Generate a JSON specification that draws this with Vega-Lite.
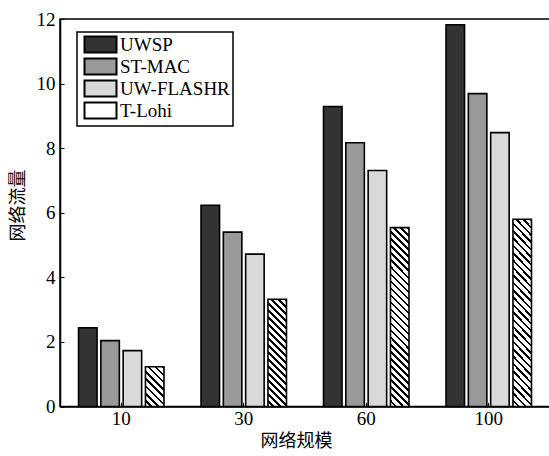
{
  "$schema": "https://vega.github.io/schema/vega-lite/v6.json",
  "autosize": "none",
  "padding": {"left": 60, "top": 19, "right": 0, "bottom": 49.5},
  "width": 490,
  "height": 387.5,
  "background": "white",
  "config": {"view": {"stroke": "black", "strokeWidth": 1.5}},
  "data": {"values": [
    {"size": "10", "series": "UWSP", "value": 2.44},
    {"size": "10", "series": "ST-MAC", "value": 2.04},
    {"size": "10", "series": "UW-FLASHR", "value": 1.73},
    {"size": "10", "series": "T-Lohi", "value": 1.23},
    {"size": "30", "series": "UWSP", "value": 6.23},
    {"size": "30", "series": "ST-MAC", "value": 5.40},
    {"size": "30", "series": "UW-FLASHR", "value": 4.72},
    {"size": "30", "series": "T-Lohi", "value": 3.32},
    {"size": "60", "series": "UWSP", "value": 9.29},
    {"size": "60", "series": "ST-MAC", "value": 8.17},
    {"size": "60", "series": "UW-FLASHR", "value": 7.31},
    {"size": "60", "series": "T-Lohi", "value": 5.54},
    {"size": "100", "series": "UWSP", "value": 11.82},
    {"size": "100", "series": "ST-MAC", "value": 9.69},
    {"size": "100", "series": "UW-FLASHR", "value": 8.48},
    {"size": "100", "series": "T-Lohi", "value": 5.80}
  ]},
  "mark": {"type": "bar", "stroke": "black", "strokeWidth": 1.6},
  "encoding": {
    "x": {
      "field": "size", "type": "ordinal", "sort": ["10", "30", "60", "100"],
      "scale": {"paddingInner": 0, "paddingOuter": 0},
      "axis": {
        "title": "网络规模", "titleFont": "Noto Sans CJK SC", "titleFontSize": 18, "titleFontWeight": "normal", "titleColor": "black",
        "titleX": 236, "titlePadding": 4,
        "labelFont": "Liberation Serif", "labelFontSize": 19, "labelColor": "black", "labelAngle": 0, "labelPadding": 7,
        "domainColor": "black", "domainWidth": 1.5, "tickColor": "black", "tickSize": -4, "tickWidth": 1
      }
    },
    "xOffset": {
      "field": "series", "type": "nominal", "sort": ["UWSP", "ST-MAC", "UW-FLASHR", "T-Lohi"],
      "scale": {"paddingInner": 0.17, "paddingOuter": 0.83}
    },
    "y": {
      "field": "value", "type": "quantitative",
      "scale": {"domain": [0, 12], "nice": false},
      "axis": {
        "title": "网络流量", "titleFont": "Noto Sans CJK SC", "titleFontSize": 18, "titleFontWeight": "normal", "titleColor": "black",
        "titleY": 186, "titlePadding": 9,
        "values": [0, 2, 4, 6, 8, 10, 12], "grid": false,
        "labelFont": "Liberation Serif", "labelFontSize": 19, "labelColor": "black", "labelPadding": 9,
        "domainColor": "black", "domainWidth": 1.5, "tickColor": "black", "tickSize": -4, "tickWidth": 1
      }
    },
    "fill": {
      "field": "series", "type": "nominal", "sort": ["UWSP", "ST-MAC", "UW-FLASHR", "T-Lohi"],
      "scale": {"domain": ["UWSP", "ST-MAC", "UW-FLASHR", "T-Lohi"], "range": ["#333333", "#999999", "#d9d9d9", "#ffffff"]},
      "condition": [
        {"test": "datum.series==='T-Lohi' && datum.size==='10'", "value": {"gradient": "linear", "x1": 0, "y1": 1, "x2": 0.564, "y2": -0.204, "stops": [
          {"offset": 0, "color": "#fff"},
          {"offset": 0.08125, "color": "#fff"}, {"offset": 0.08125, "color": "#000"}, {"offset": 0.125, "color": "#000"}, {"offset": 0.125, "color": "#fff"},
          {"offset": 0.20625, "color": "#fff"}, {"offset": 0.20625, "color": "#000"}, {"offset": 0.25, "color": "#000"}, {"offset": 0.25, "color": "#fff"},
          {"offset": 0.33125, "color": "#fff"}, {"offset": 0.33125, "color": "#000"}, {"offset": 0.375, "color": "#000"}, {"offset": 0.375, "color": "#fff"},
          {"offset": 0.45625, "color": "#fff"}, {"offset": 0.45625, "color": "#000"}, {"offset": 0.5, "color": "#000"}, {"offset": 0.5, "color": "#fff"},
          {"offset": 0.58125, "color": "#fff"}, {"offset": 0.58125, "color": "#000"}, {"offset": 0.625, "color": "#000"}, {"offset": 0.625, "color": "#fff"},
          {"offset": 0.70625, "color": "#fff"}, {"offset": 0.70625, "color": "#000"}, {"offset": 0.75, "color": "#000"}, {"offset": 0.75, "color": "#fff"},
          {"offset": 0.83125, "color": "#fff"}, {"offset": 0.83125, "color": "#000"}, {"offset": 0.875, "color": "#000"}, {"offset": 0.875, "color": "#fff"},
          {"offset": 0.95625, "color": "#fff"}, {"offset": 0.95625, "color": "#000"}, {"offset": 1, "color": "#000"}
        ]}},
        {"test": "datum.series==='T-Lohi' && datum.size==='30'", "value": {"gradient": "linear", "x1": 0, "y1": 1, "x2": 0.197, "y2": -0.139, "stops": [
          {"offset": 0, "color": "#fff"},
          {"offset": 0.0361, "color": "#fff"}, {"offset": 0.0361, "color": "#000"}, {"offset": 0.0556, "color": "#000"}, {"offset": 0.0556, "color": "#fff"},
          {"offset": 0.0917, "color": "#fff"}, {"offset": 0.0917, "color": "#000"}, {"offset": 0.1111, "color": "#000"}, {"offset": 0.1111, "color": "#fff"},
          {"offset": 0.1472, "color": "#fff"}, {"offset": 0.1472, "color": "#000"}, {"offset": 0.1667, "color": "#000"}, {"offset": 0.1667, "color": "#fff"},
          {"offset": 0.2028, "color": "#fff"}, {"offset": 0.2028, "color": "#000"}, {"offset": 0.2222, "color": "#000"}, {"offset": 0.2222, "color": "#fff"},
          {"offset": 0.2583, "color": "#fff"}, {"offset": 0.2583, "color": "#000"}, {"offset": 0.2778, "color": "#000"}, {"offset": 0.2778, "color": "#fff"},
          {"offset": 0.3139, "color": "#fff"}, {"offset": 0.3139, "color": "#000"}, {"offset": 0.3333, "color": "#000"}, {"offset": 0.3333, "color": "#fff"},
          {"offset": 0.3694, "color": "#fff"}, {"offset": 0.3694, "color": "#000"}, {"offset": 0.3889, "color": "#000"}, {"offset": 0.3889, "color": "#fff"},
          {"offset": 0.4250, "color": "#fff"}, {"offset": 0.4250, "color": "#000"}, {"offset": 0.4444, "color": "#000"}, {"offset": 0.4444, "color": "#fff"},
          {"offset": 0.4806, "color": "#fff"}, {"offset": 0.4806, "color": "#000"}, {"offset": 0.5, "color": "#000"}, {"offset": 0.5, "color": "#fff"},
          {"offset": 0.5361, "color": "#fff"}, {"offset": 0.5361, "color": "#000"}, {"offset": 0.5556, "color": "#000"}, {"offset": 0.5556, "color": "#fff"},
          {"offset": 0.5917, "color": "#fff"}, {"offset": 0.5917, "color": "#000"}, {"offset": 0.6111, "color": "#000"}, {"offset": 0.6111, "color": "#fff"},
          {"offset": 0.6472, "color": "#fff"}, {"offset": 0.6472, "color": "#000"}, {"offset": 0.6667, "color": "#000"}, {"offset": 0.6667, "color": "#fff"},
          {"offset": 0.7028, "color": "#fff"}, {"offset": 0.7028, "color": "#000"}, {"offset": 0.7222, "color": "#000"}, {"offset": 0.7222, "color": "#fff"},
          {"offset": 0.7583, "color": "#fff"}, {"offset": 0.7583, "color": "#000"}, {"offset": 0.7778, "color": "#000"}, {"offset": 0.7778, "color": "#fff"},
          {"offset": 0.8139, "color": "#fff"}, {"offset": 0.8139, "color": "#000"}, {"offset": 0.8333, "color": "#000"}, {"offset": 0.8333, "color": "#fff"},
          {"offset": 0.8694, "color": "#fff"}, {"offset": 0.8694, "color": "#000"}, {"offset": 0.8889, "color": "#000"}, {"offset": 0.8889, "color": "#fff"},
          {"offset": 0.9250, "color": "#fff"}, {"offset": 0.9250, "color": "#000"}, {"offset": 0.9444, "color": "#000"}, {"offset": 0.9444, "color": "#fff"},
          {"offset": 0.9806, "color": "#fff"}, {"offset": 0.9806, "color": "#000"}, {"offset": 1, "color": "#000"}
        ]}},
        {"test": "datum.series==='T-Lohi'", "value": {"gradient": "linear", "x1": 0, "y1": 1, "x2": 0.1136, "y2": -0.092, "stops": [
          {"offset": 0, "color": "#fff"},
          {"offset": 0.0232, "color": "#fff"}, {"offset": 0.0232, "color": "#000"}, {"offset": 0.0357, "color": "#000"}, {"offset": 0.0357, "color": "#fff"},
          {"offset": 0.0589, "color": "#fff"}, {"offset": 0.0589, "color": "#000"}, {"offset": 0.0714, "color": "#000"}, {"offset": 0.0714, "color": "#fff"},
          {"offset": 0.0946, "color": "#fff"}, {"offset": 0.0946, "color": "#000"}, {"offset": 0.1071, "color": "#000"}, {"offset": 0.1071, "color": "#fff"},
          {"offset": 0.1304, "color": "#fff"}, {"offset": 0.1304, "color": "#000"}, {"offset": 0.1429, "color": "#000"}, {"offset": 0.1429, "color": "#fff"},
          {"offset": 0.1661, "color": "#fff"}, {"offset": 0.1661, "color": "#000"}, {"offset": 0.1786, "color": "#000"}, {"offset": 0.1786, "color": "#fff"},
          {"offset": 0.2018, "color": "#fff"}, {"offset": 0.2018, "color": "#000"}, {"offset": 0.2143, "color": "#000"}, {"offset": 0.2143, "color": "#fff"},
          {"offset": 0.2375, "color": "#fff"}, {"offset": 0.2375, "color": "#000"}, {"offset": 0.25, "color": "#000"}, {"offset": 0.25, "color": "#fff"},
          {"offset": 0.2732, "color": "#fff"}, {"offset": 0.2732, "color": "#000"}, {"offset": 0.2857, "color": "#000"}, {"offset": 0.2857, "color": "#fff"},
          {"offset": 0.3089, "color": "#fff"}, {"offset": 0.3089, "color": "#000"}, {"offset": 0.3214, "color": "#000"}, {"offset": 0.3214, "color": "#fff"},
          {"offset": 0.3446, "color": "#fff"}, {"offset": 0.3446, "color": "#000"}, {"offset": 0.3571, "color": "#000"}, {"offset": 0.3571, "color": "#fff"},
          {"offset": 0.3804, "color": "#fff"}, {"offset": 0.3804, "color": "#000"}, {"offset": 0.3929, "color": "#000"}, {"offset": 0.3929, "color": "#fff"},
          {"offset": 0.4161, "color": "#fff"}, {"offset": 0.4161, "color": "#000"}, {"offset": 0.4286, "color": "#000"}, {"offset": 0.4286, "color": "#fff"},
          {"offset": 0.4518, "color": "#fff"}, {"offset": 0.4518, "color": "#000"}, {"offset": 0.4643, "color": "#000"}, {"offset": 0.4643, "color": "#fff"},
          {"offset": 0.4875, "color": "#fff"}, {"offset": 0.4875, "color": "#000"}, {"offset": 0.5, "color": "#000"}, {"offset": 0.5, "color": "#fff"},
          {"offset": 0.5232, "color": "#fff"}, {"offset": 0.5232, "color": "#000"}, {"offset": 0.5357, "color": "#000"}, {"offset": 0.5357, "color": "#fff"},
          {"offset": 0.5589, "color": "#fff"}, {"offset": 0.5589, "color": "#000"}, {"offset": 0.5714, "color": "#000"}, {"offset": 0.5714, "color": "#fff"},
          {"offset": 0.5946, "color": "#fff"}, {"offset": 0.5946, "color": "#000"}, {"offset": 0.6071, "color": "#000"}, {"offset": 0.6071, "color": "#fff"},
          {"offset": 0.6304, "color": "#fff"}, {"offset": 0.6304, "color": "#000"}, {"offset": 0.6429, "color": "#000"}, {"offset": 0.6429, "color": "#fff"},
          {"offset": 0.6661, "color": "#fff"}, {"offset": 0.6661, "color": "#000"}, {"offset": 0.6786, "color": "#000"}, {"offset": 0.6786, "color": "#fff"},
          {"offset": 0.7018, "color": "#fff"}, {"offset": 0.7018, "color": "#000"}, {"offset": 0.7143, "color": "#000"}, {"offset": 0.7143, "color": "#fff"},
          {"offset": 0.7375, "color": "#fff"}, {"offset": 0.7375, "color": "#000"}, {"offset": 0.75, "color": "#000"}, {"offset": 0.75, "color": "#fff"},
          {"offset": 0.7732, "color": "#fff"}, {"offset": 0.7732, "color": "#000"}, {"offset": 0.7857, "color": "#000"}, {"offset": 0.7857, "color": "#fff"},
          {"offset": 0.8089, "color": "#fff"}, {"offset": 0.8089, "color": "#000"}, {"offset": 0.8214, "color": "#000"}, {"offset": 0.8214, "color": "#fff"},
          {"offset": 0.8446, "color": "#fff"}, {"offset": 0.8446, "color": "#000"}, {"offset": 0.8571, "color": "#000"}, {"offset": 0.8571, "color": "#fff"},
          {"offset": 0.8804, "color": "#fff"}, {"offset": 0.8804, "color": "#000"}, {"offset": 0.8929, "color": "#000"}, {"offset": 0.8929, "color": "#fff"},
          {"offset": 0.9161, "color": "#fff"}, {"offset": 0.9161, "color": "#000"}, {"offset": 0.9286, "color": "#000"}, {"offset": 0.9286, "color": "#fff"},
          {"offset": 0.9518, "color": "#fff"}, {"offset": 0.9518, "color": "#000"}, {"offset": 0.9643, "color": "#000"}, {"offset": 0.9643, "color": "#fff"},
          {"offset": 0.9875, "color": "#fff"}, {"offset": 0.9875, "color": "#000"}, {"offset": 1, "color": "#000"}
        ]}}
      ],
      "legend": {
        "title": null, "orient": "none", "legendX": 17, "legendY": 13,
        "padding": 3, "strokeColor": "black", "fillColor": "white",
        "labelFont": "Liberation Serif", "labelFontSize": 19, "labelColor": "black", "labelOffset": 10, "labelLimit": 300,
        "labelExpr": "datum.label === 'UW-FLASHR' ? '\u00a0UW-FLASHR' : datum.label",
        "symbolType": "M-2,-1h4v2h-4z", "symbolSize": 256, "symbolOffset": 11, "symbolStrokeColor": "black", "symbolStrokeWidth": 2, "symbolOpacity": 1,
        "rowPadding": -4,
        "encode": {
          "legend": {"update": {"strokeWidth": {"value": 1.5}}},
          "symbols": {"update": {
            "stroke": {"value": "black"},
            "strokeWidth": {"value": 2},
            "fill": [
          {"test": "datum.value === 'T-Lohi'", "value": {"gradient": "linear", "x1": 0, "y1": 1, "x2": 1.2, "y2": 0.4, "stops": [
            {"offset": 0, "color": "#fff"},
            {"offset": 0.08125, "color": "#fff"}, {"offset": 0.08125, "color": "#000"}, {"offset": 0.125, "color": "#000"}, {"offset": 0.125, "color": "#fff"},
            {"offset": 0.20625, "color": "#fff"}, {"offset": 0.20625, "color": "#000"}, {"offset": 0.25, "color": "#000"}, {"offset": 0.25, "color": "#fff"},
            {"offset": 0.33125, "color": "#fff"}, {"offset": 0.33125, "color": "#000"}, {"offset": 0.375, "color": "#000"}, {"offset": 0.375, "color": "#fff"},
            {"offset": 0.45625, "color": "#fff"}, {"offset": 0.45625, "color": "#000"}, {"offset": 0.5, "color": "#000"}, {"offset": 0.5, "color": "#fff"},
            {"offset": 0.58125, "color": "#fff"}, {"offset": 0.58125, "color": "#000"}, {"offset": 0.625, "color": "#000"}, {"offset": 0.625, "color": "#fff"},
            {"offset": 0.70625, "color": "#fff"}, {"offset": 0.70625, "color": "#000"}, {"offset": 0.75, "color": "#000"}, {"offset": 0.75, "color": "#fff"},
            {"offset": 0.83125, "color": "#fff"}, {"offset": 0.83125, "color": "#000"}, {"offset": 0.875, "color": "#000"}, {"offset": 0.875, "color": "#fff"},
            {"offset": 0.95625, "color": "#fff"}, {"offset": 0.95625, "color": "#000"}, {"offset": 1, "color": "#000"}
          ]}},
          {"scale": "fill", "field": "value"}
        ]}}}
      }
    }
  }
}
